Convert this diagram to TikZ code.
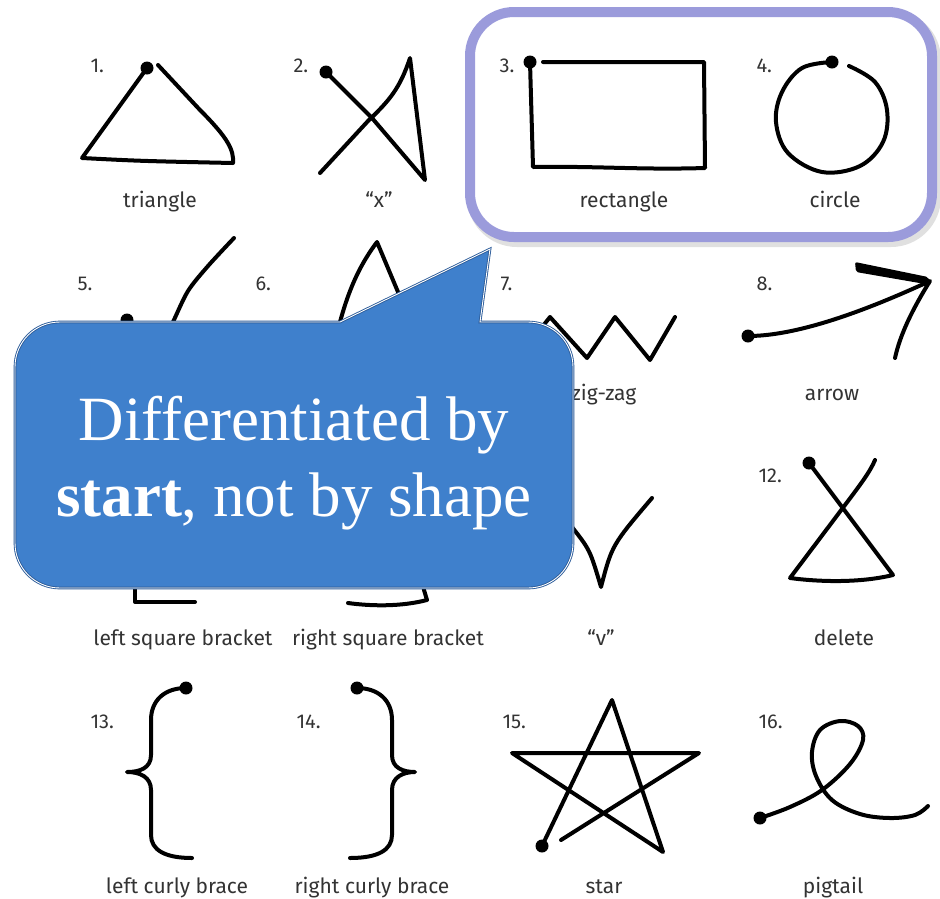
\documentclass[tikz,border=0pt]{standalone}
\usepackage{fontspec}
\usepackage{tikz}
\usetikzlibrary{positioning, calc}
\setmainfont{Liberation Serif}
\newfontfamily\lblfont{Fira Sans}
\definecolor{calloutblue}{RGB}{63, 128, 204}
\definecolor{calloutedge}{RGB}{44, 92, 154}
\definecolor{framepurple}{RGB}{155, 155, 219}
\definecolor{labelgray}{RGB}{51, 51, 51}

\begin{document}
\begin{tikzpicture}[
    x=1pt, y=-1pt,
    stroke/.style={line width=4pt, line cap=round, line join=round},
    startdot/.style={circle, fill=black, inner sep=0pt, minimum size=13pt},
    lbl/.style={anchor=base, text=labelgray, font=\lblfont\fontsize{21}{25}\selectfont},
    num/.style={anchor=base west, text=labelgray, font=\lblfont\fontsize{20}{24}\selectfont},
    callouttext/.style={text=white, align=center, inner sep=0pt, font=\fontsize{63}{76}\selectfont}
]
\useasboundingbox[fill=white] (0,0) rectangle (940,898);

% Highlight frame round 3 and 4
\draw[line width=12pt, black, opacity=0.12, rounded corners=44pt] (473,16) rectangle (935,241);
\draw[line width=10pt, framepurple, fill=white, rounded corners=44pt] (470,12) rectangle (932,237);

% Row 1
\node[num] (n1) at (87,72) {1.};
\node[startdot] (d1) at (147,68) {};
\draw[stroke] (d1.center) -- (82,158) .. controls (140,161) .. (233,163)
    .. controls (234,150) and (228,138) .. (200,110) -- (158,65);
\node[lbl] (l1) at (160,207) {triangle};

\node[num] (n2) at (290,72) {2.};
\node[startdot] (d2) at (326,72) {};
\draw[stroke] (d2.center) -- (372,118) -- (425,180) -- (410,58)
    .. controls (400,88) and (390,100) .. (368,121) -- (320,173);
\node[lbl] (l2) at (379,207) {“x”};

\node[num] (n3) at (496,72) {3.};
\node[startdot] (d3) at (530,62) {};
\draw[stroke] (d3.center) -- (533,167) .. controls (600,166) and (640,170) .. (705,168)
    -- (704,62) -- (543,62);
\node[lbl] (l3) at (624,207) {rectangle};

\node[num] (n4) at (753,72) {4.};
\node[startdot] (d4) at (832,62) {};
\draw[stroke] plot[smooth, tension=0.6] coordinates {(832,62) (802,68) (782,92) (776,122)
    (788,153) (822,172) (860,166) (883,142) (887,110) (875,82) (849,66)};
\node[lbl] (l4) at (835,207) {circle};

% Row 2
\node[num] (n5) at (74,290) {5.};
\node[startdot] (d5) at (127,320) {};
\draw[stroke] plot[smooth] coordinates {(127,320) (143,340) (152,360) (162,345) (173,322)
    (188,291) (208,266) (234,238)};

\node[num] (n6) at (252,290) {6.};
\draw[stroke] (330,360) -- (340,322) .. controls (350,285) and (362,262) .. (377,242)
    -- (398,292) -- (425,360);

\node[num] (n7) at (497,290) {7.};
\draw[stroke] (520,355) -- (550,317) -- (587,358) -- (615,317) -- (650,360) -- (675,317);
\node[lbl] (l7) at (604,400) {zig-zag};

\node[num] (n8) at (753,290) {8.};
\node[startdot] (d8) at (748,336) {};
\draw[stroke] (d8.center) .. controls (790,336) and (850,318) .. (930,281)
    .. controls (912,310) and (900,335) .. (895,358);
\fill[rounded corners=2pt] (855,262) -- (928,277) -- (931,285) -- (856,272) -- cycle;
\node[lbl] (l8) at (832,400) {arrow};

% Row 3
\draw[stroke] (195,420) -- (135,420) -- (135,602) -- (195,602);
\node[lbl] (l9) at (183,645) {left square bracket};

\draw[stroke] (348,425) -- (421,425) -- (424,590) -- (427,600)
    .. controls (400,607) and (370,606) .. (348,603);
\node[lbl] (l10) at (388,645) {right square bracket};

\draw[stroke] (560,500) -- (572,527) .. controls (590,550) .. (601,587)
    .. controls (612,545) .. (652,498);
\node[lbl] (l11) at (601,645) {“v”};

\node[num] (n12) at (755,482) {12.};
\node[startdot] (d12) at (809,463) {};
\draw[stroke] (d12.center) -- (893,575) .. controls (860,583) and (820,582) .. (790,578)
    -- (845,505) .. controls (860,485) and (870,472) .. (875,460);
\node[lbl] (l12) at (844,645) {delete};

% Row 4
\node[num] (n13) at (87,728) {13.};
\node[startdot] (d13) at (186,688) {};
\draw[stroke] (d13.center) .. controls (165,688) and (151,700) .. (151,720) -- (151,755)
    .. controls (151,768) and (140,772) .. (127,772)
    .. controls (140,772) and (151,777) .. (151,790) -- (151,835)
    .. controls (151,850) and (165,858) .. (192,858);
\node[lbl] (l13) at (177,893) {left curly brace};

\node[num] (n14) at (293,728) {14.};
\node[startdot] (d14) at (357,688) {};
\draw[stroke] (d14.center) .. controls (378,688) and (392,700) .. (392,720) -- (392,755)
    .. controls (392,768) and (403,772) .. (415,772)
    .. controls (403,772) and (392,777) .. (392,790) -- (392,835)
    .. controls (392,850) and (378,858) .. (350,858);
\node[lbl] (l14) at (372,893) {right curly brace};

\node[num] (n15) at (499,728) {15.};
\node[startdot] (d15) at (542,846) {};
\draw[stroke] (d15.center) -- (612,700) -- (663,852) -- (512,753) -- (699,753) -- (561,840);
\node[lbl] (l15) at (604,893) {star};

\node[num] (n16) at (755,728) {16.};
\node[startdot] (d16) at (760,818) {};
\draw[stroke] plot[smooth, tension=0.6] coordinates {(760,818) (790,807) (822,790) (850,764)
    (863,740) (858,726) (840,721) (820,730) (812,752) (816,776) (832,800) (860,814)
    (890,818) (915,815) (928,806)};
\node[lbl] (l16) at (833,893) {pigtail};

% Callout
\draw[fill=calloutblue, draw=calloutedge, line width=0.9pt, double=white, double distance=0.9pt]
    (15,367) .. controls (15,342) and (35,322) .. (60,322) -- (340,322) -- (490,249)
    -- (480,322) -- (528,322) .. controls (553,322) and (573,342) .. (573,367)
    -- (573,543) .. controls (573,568) and (553,588) .. (528,588)
    -- (60,588) .. controls (35,588) and (15,568) .. (15,543) -- cycle;
\node[callouttext] (msg) at (294,463) {Differentiated by\\\textbf{start}, not by shape};

\end{tikzpicture}
\end{document}
